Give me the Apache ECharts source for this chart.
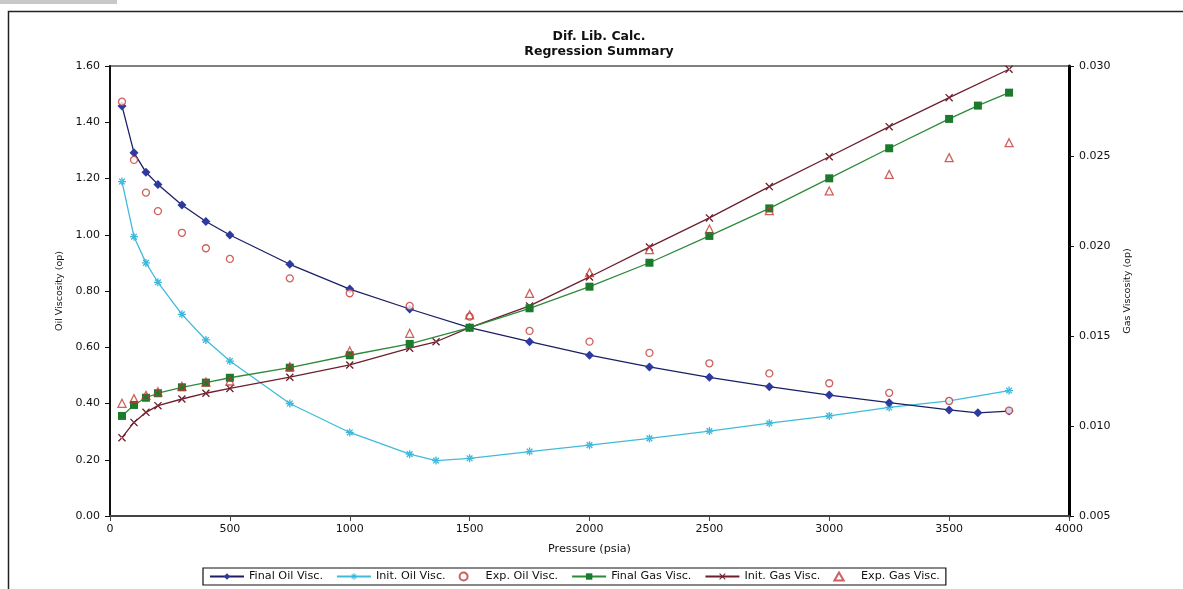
<!DOCTYPE html>
<html>
<head>
<meta charset="utf-8">
<script src="https://cdn.jsdelivr.net/npm/echarts@6/dist/echarts.min.js"></script>
<style>
  html, body { margin: 0; padding: 0; background: #fff; }
  #chart { width: 1183px; height: 589px; }
</style>
</head>
<body>
<div id="chart"></div>
<script>
// Differential liberation viscosity regression summary

const TITLE_LINES = ['Dif. Lib. Calc.', 'Regression Summary'];
const X_NAME = 'Pressure (psia)';
const Y_OIL_NAME = 'Oil Viscosity (op)';
const Y_GAS_NAME = 'Gas Viscosity (op)';
const SERIES_NAMES = ['Final Oil Visc.', 'Init. Oil Visc.', 'Exp. Oil Visc.',
                      'Final Gas Visc.', 'Init. Gas Visc.', 'Exp. Gas Visc.'];

// pressures (psia)
const pFinal = [50, 100, 150, 200, 300, 400, 500, 750, 1000, 1250, 1500, 1750, 2000, 2250, 2500, 2750, 3000, 3250, 3500, 3620, 3750];
const pInit  = [50, 100, 150, 200, 300, 400, 500, 750, 1000, 1250, 1360, 1500, 1750, 2000, 2250, 2500, 2750, 3000, 3250, 3500, 3750];
const pExp   = [50, 100, 150, 200, 300, 400, 500, 750, 1000, 1250, 1500, 1750, 2000, 2250, 2500, 2750, 3000, 3250, 3500, 3750];

// oil viscosity (cp)
const finalOil = [1.458, 1.292, 1.222, 1.179, 1.106, 1.047, 0.999, 0.895, 0.807, 0.736, 0.670, 0.620, 0.572, 0.530, 0.493, 0.460, 0.430, 0.403, 0.377, 0.367, 0.373];
const initOil  = [1.189, 0.993, 0.900, 0.831, 0.717, 0.626, 0.551, 0.400, 0.297, 0.220, 0.197, 0.205, 0.229, 0.252, 0.276, 0.302, 0.330, 0.356, 0.386, 0.409, 0.446];
const expOil   = [1.473, 1.266, 1.150, 1.084, 1.007, 0.952, 0.914, 0.845, 0.792, 0.747, 0.709, 0.658, 0.620, 0.580, 0.543, 0.507, 0.472, 0.438, 0.409, 0.375];

// gas viscosity (cp)
const finalGas = [0.01056, 0.01117, 0.01157, 0.01182, 0.01215, 0.01241, 0.01268, 0.01324, 0.01393, 0.01456, 0.01546, 0.01654, 0.01774, 0.01907, 0.02056, 0.02209, 0.02376, 0.02543, 0.02706, 0.02780, 0.02852];
const initGas  = [0.00935, 0.01020, 0.01076, 0.01113, 0.01150, 0.01182, 0.01209, 0.01271, 0.01339, 0.01432, 0.01468, 0.01546, 0.01667, 0.01828, 0.01994, 0.02156, 0.02330, 0.02496, 0.02663, 0.02824, 0.02982];
const expGas   = [0.01126, 0.01152, 0.01170, 0.01190, 0.01220, 0.01244, 0.01250, 0.01330, 0.01417, 0.01515, 0.01617, 0.01737, 0.01852, 0.01980, 0.02094, 0.02196, 0.02306, 0.02398, 0.02491, 0.02574];

const pairs = (xs, ys) => xs.map((x, i) => [x, ys[i]]);

const FONT = 'DejaVu Sans';
const ASTERISK = 'path://M-0.8,-5h1.6v10h-1.6z M-5,-0.8h10v1.6h-10z M-4.1,-3L3,4.1L4.1,3L-3,-4.1z M4.1,-3L-3,4.1L-4.1,3L3,-4.1z';
const CROSS = 'path://M-4.3,-3.3L3.3,4.3L4.3,3.3L-3.3,-4.3z M4.3,-3.3L-3.3,4.3L-4.3,3.3L3.3,-4.3z';
const TRI = 'path://M0,-5L5.2,4L-5.2,4Z';
const RING = 'path://M0,-5A5,5,0,1,1,-0.01,-5Z';

const chart = echarts.init(document.getElementById('chart'), null, { renderer: 'canvas' });

const option = {
  animation: false,
  backgroundColor: '#ffffff',
  textStyle: { fontFamily: FONT },
  graphic: [
    { type: 'rect', shape: { x: 0, y: 0, width: 117, height: 4 }, style: { fill: '#c8c8c8' }, silent: true },
    { type: 'rect', shape: { x: 8.5, y: 11.5, width: 1190, height: 600 }, style: { fill: null, stroke: '#222', lineWidth: 1.5 }, silent: true },
    { type: 'text', x: 599, y: 29, style: { text: TITLE_LINES.join('\n'), textAlign: 'center', font: 'bold 12.5px "DejaVu Sans"', fill: '#111', lineHeight: 15 }, silent: true }
  ],
  legend: {
    bottom: 4,
    left: 203,
    itemWidth: 34,
    itemHeight: 8,
    itemGap: 13,
    symbolKeepAspect: true,
    padding: [3, 6, 3, 6],
    borderColor: '#111',
    borderWidth: 1.2,
    borderRadius: 0,
    textStyle: { fontFamily: FONT, fontSize: 11.2, color: '#111' },
    data: [
      SERIES_NAMES[0],
      SERIES_NAMES[1],
      { name: SERIES_NAMES[2], icon: RING },
      SERIES_NAMES[3],
      SERIES_NAMES[4],
      { name: SERIES_NAMES[5], icon: TRI }
    ]
  },
  grid: {
    left: 110, right: 114, top: 66, bottom: 73,
    show: true, borderColor: '#555', borderWidth: 1.5, backgroundColor: '#fff'
  },
  xAxis: {
    type: 'value', min: 0, max: 4000, interval: 500,
    name: X_NAME, nameLocation: 'middle', nameGap: 28,
    nameTextStyle: { fontFamily: FONT, fontSize: 11.2, color: '#111' },
    axisLine: { show: true, lineStyle: { color: '#444', width: 2 } },
    axisTick: { show: true, length: 5, lineStyle: { color: '#444' } },
    axisLabel: { fontFamily: FONT, fontSize: 11, color: '#111', margin: 8, formatter: v => String(v) },
    splitLine: { show: false }
  },
  yAxis: [
    {
      type: 'value', min: 0, max: 1.6, interval: 0.2, position: 'left',
      name: Y_OIL_NAME, nameLocation: 'middle', nameRotate: 90, nameGap: 45,
      nameTextStyle: { fontFamily: FONT, fontSize: 9.5, color: '#111' },
      axisLine: { show: true, lineStyle: { color: '#111', width: 2 } },
      axisTick: { show: true, length: 5, lineStyle: { color: '#111' } },
      axisLabel: { fontFamily: FONT, fontSize: 11, color: '#111', margin: 10, formatter: v => v.toFixed(2) },
      splitLine: { show: false }
    },
    {
      type: 'value', min: 0.005, max: 0.03, interval: 0.005, position: 'right',
      name: Y_GAS_NAME, nameLocation: 'middle', nameRotate: 90, nameGap: 54,
      nameTextStyle: { fontFamily: FONT, fontSize: 9.5, color: '#111' },
      axisLine: { show: true, lineStyle: { color: '#000', width: 3 } },
      axisTick: { show: true, length: 5, lineStyle: { color: '#111' } },
      axisLabel: { fontFamily: FONT, fontSize: 11, color: '#111', margin: 10, formatter: v => v.toFixed(3) },
      splitLine: { show: false }
    }
  ],
  series: [
    {
      name: SERIES_NAMES[0], type: 'line', yAxisIndex: 0, data: pairs(pFinal, finalOil),
      symbol: 'diamond', symbolSize: 9, showAllSymbol: true,
      lineStyle: { color: '#1c1f66', width: 1.3 },
      itemStyle: { color: '#2d3a9e' }, z: 5
    },
    {
      name: SERIES_NAMES[1], type: 'line', yAxisIndex: 0, data: pairs(pInit, initOil),
      symbol: ASTERISK, symbolSize: 8, showAllSymbol: true,
      lineStyle: { color: '#3fbcd8', width: 1.3 },
      itemStyle: { color: '#35b6dc' }, z: 4
    },
    {
      name: SERIES_NAMES[2], type: 'scatter', yAxisIndex: 0, data: pairs(pExp, expOil),
      symbol: 'circle', symbolSize: 7,
      itemStyle: { color: '#ffffff', borderColor: '#c23a35', borderWidth: 1.3 }, z: 6
    },
    {
      name: SERIES_NAMES[3], type: 'line', yAxisIndex: 1, data: pairs(pFinal, finalGas),
      symbol: 'rect', symbolSize: 8, showAllSymbol: true,
      lineStyle: { color: '#2d8a3a', width: 1.3 },
      itemStyle: { color: '#1b7a2b' }, z: 5
    },
    {
      name: SERIES_NAMES[4], type: 'line', yAxisIndex: 1, data: pairs(pInit, initGas),
      symbol: CROSS, symbolSize: 8, showAllSymbol: true,
      lineStyle: { color: '#6e1f2c', width: 1.3 },
      itemStyle: { color: '#6e1f2c' }, z: 4
    },
    {
      name: SERIES_NAMES[5], type: 'scatter', yAxisIndex: 1, data: pairs(pExp, expGas),
      symbol: 'triangle', symbolSize: 8,
      itemStyle: { color: 'rgba(255,255,255,0)', borderColor: '#c23a35', borderWidth: 1.3 }, z: 6
    }
  ]
};

chart.setOption(option);
</script>
</body>
</html>
